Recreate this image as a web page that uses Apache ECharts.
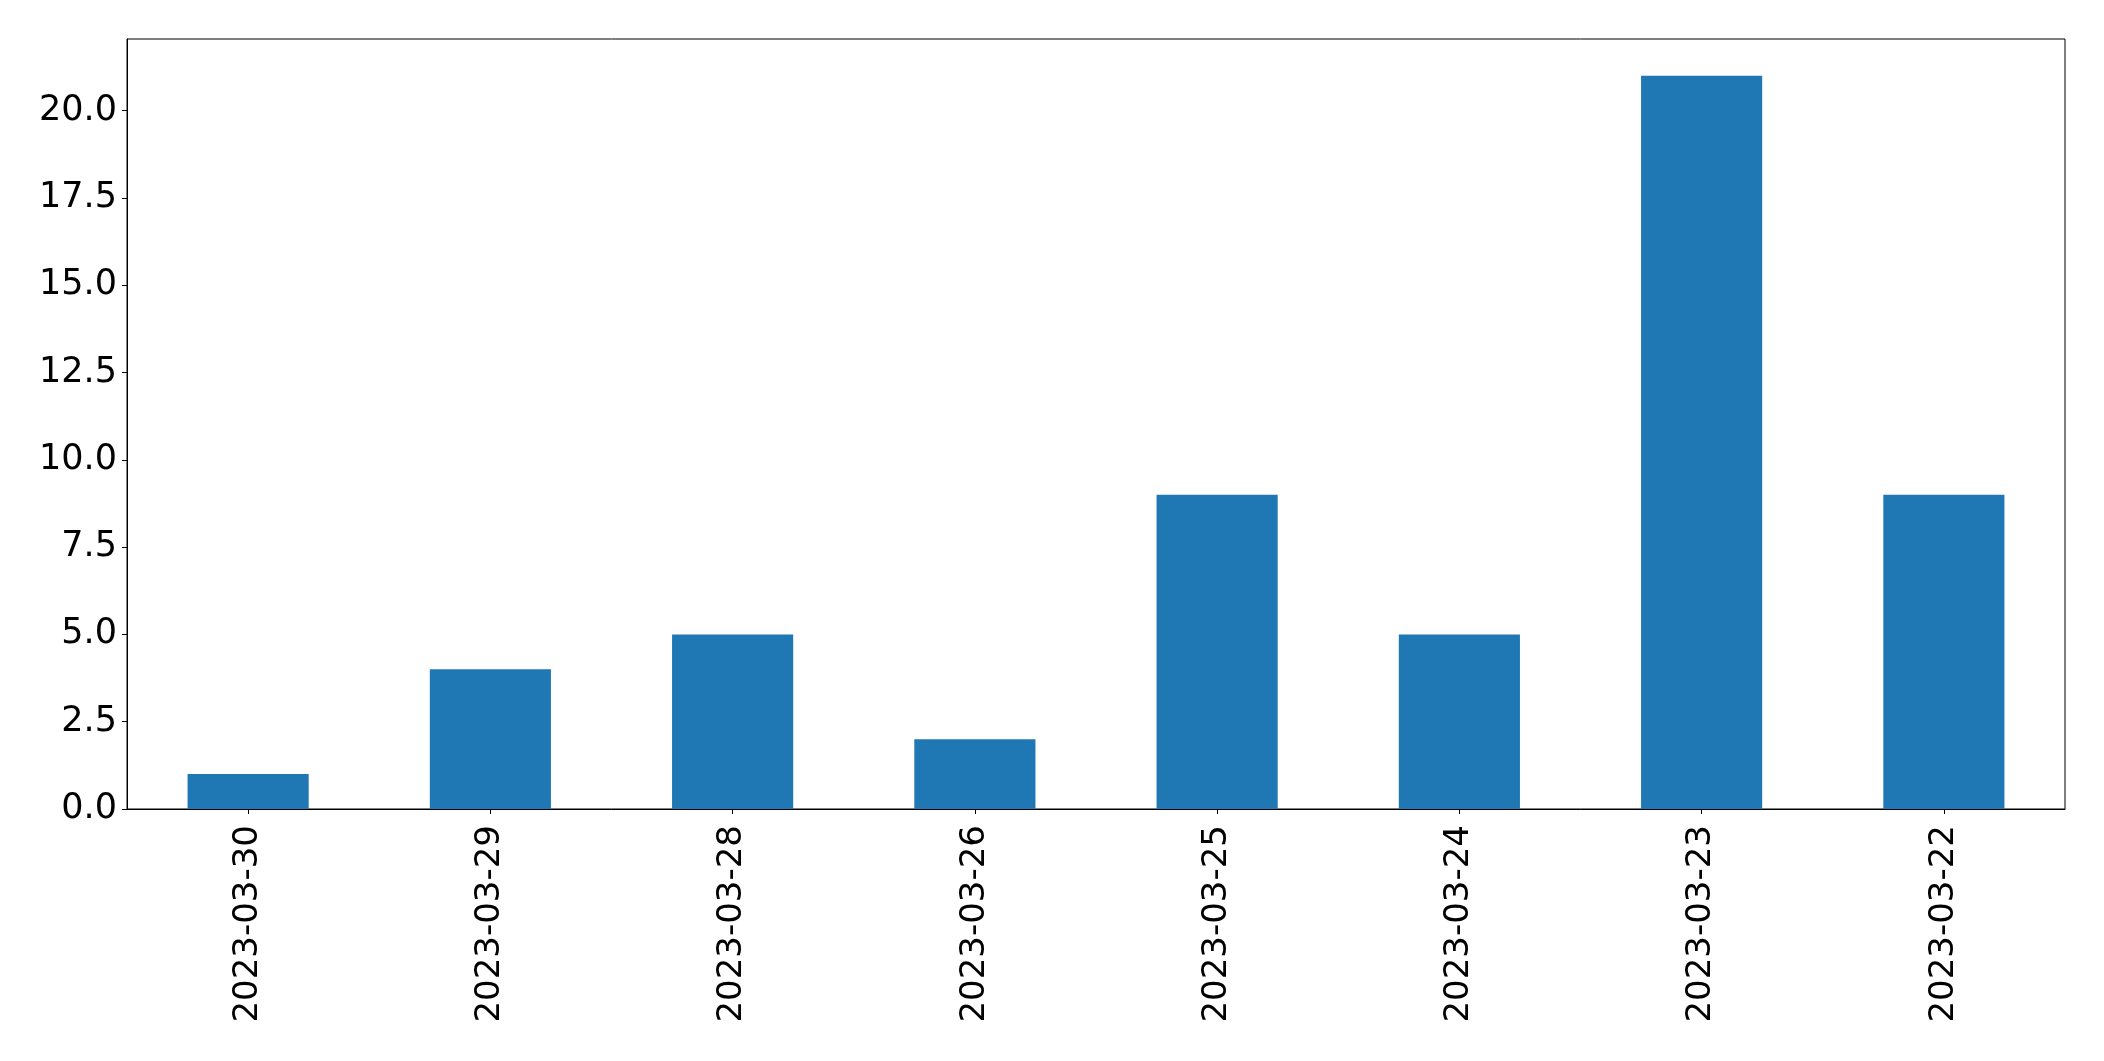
<!DOCTYPE html>
<html><head><meta charset="utf-8">
<script src="https://cdn.jsdelivr.net/npm/echarts@6/dist/echarts.min.js"></script>
<style>html,body{margin:0;padding:0;background:#fff}#c{width:2104px;height:1061px}</style>
</head><body><div id="c"></div>
<script>
const categories = ['2023-03-30','2023-03-29','2023-03-28','2023-03-26','2023-03-25','2023-03-24','2023-03-23','2023-03-22'];
const counts = [1, 4, 5, 2, 9, 5, 21, 9];
const yTicks = [0, 2.5, 5, 7.5, 10, 12.5, 15, 17.5, 20];

const chart = echarts.init(document.getElementById('c'), null, {renderer: 'canvas'});
const font = 'DejaVu Sans';
chart.setOption({
  animation: false,
  backgroundColor: '#ffffff',
  grid: {left: 127, right: 39, top: 39, bottom: 252, show: true, borderColor: '#000', borderWidth: 1, backgroundColor: 'transparent'},
  xAxis: {
    type: 'category', data: categories, boundaryGap: true,
    axisLine: {show: true, lineStyle: {color: '#000', width: 1}},
    axisTick: {show: true, alignWithLabel: true, length: 5, lineStyle: {color: '#000', width: 1}},
    axisLabel: {rotate: 90, fontFamily: font, fontSize: 34, color: '#000', margin: 16, interval: 0},
    splitLine: {show: false}
  },
  yAxis: {
    type: 'value', min: 0, max: 22.05, interval: 2.5,
    axisLine: {show: true, lineStyle: {color: '#000', width: 1}},
    axisTick: {show: true, length: 5, lineStyle: {color: '#000', width: 1}, customValues: yTicks},
    axisLabel: {fontFamily: font, fontSize: 35, color: '#000', margin: 10, customValues: yTicks,
      formatter: v => Number(v).toFixed(1)},
    splitLine: {show: false}
  },
  series: [{
    type: 'bar', data: counts, barWidth: '50%',
    itemStyle: {color: '#1f77b4'}
  }]
});
</script></body></html>
